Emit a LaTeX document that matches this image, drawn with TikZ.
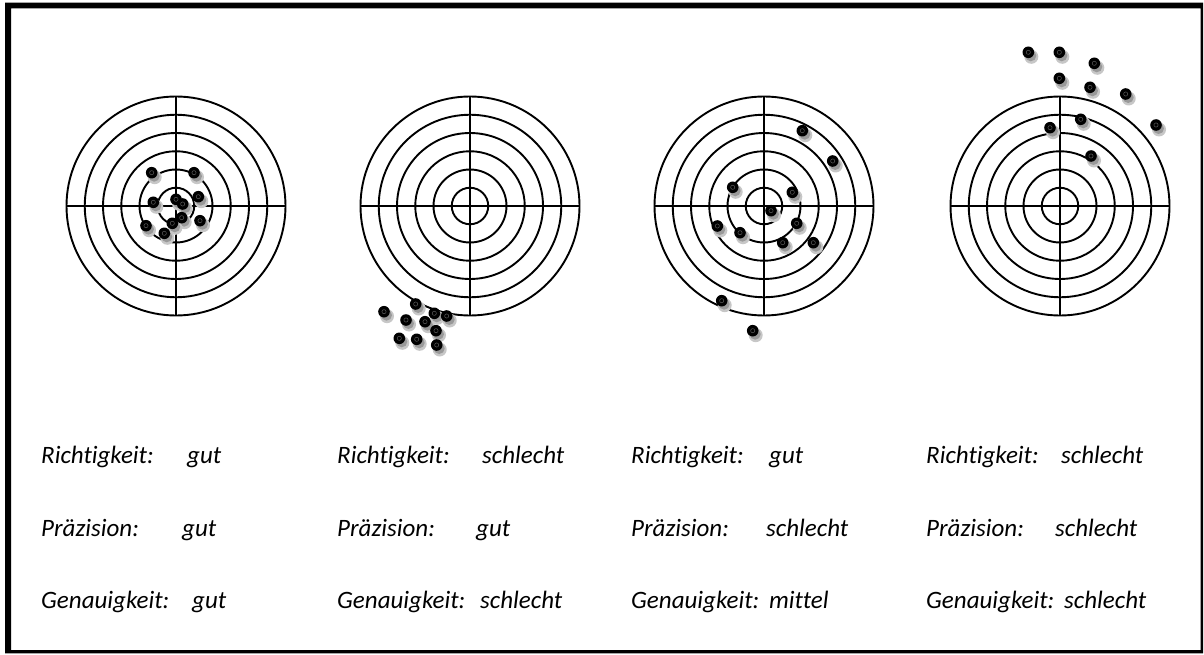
\documentclass[tikz,border=0pt]{standalone}
\usepackage{fontspec}
\setmainfont{Carlito}[Ligatures=NoCommon]
\begin{document}
\begin{tikzpicture}[x=1pt,y=-1pt,
  ring/.style={line width=1.9pt,black},
  lbl/.style={anchor=base west, inner sep=0pt, font=\fontsize{25}{30}\selectfont\itshape},
  shadowA/.style={fill=black!22},
  shadowB/.style={fill=black!40},
  holefill/.style={fill=black},
  holering/.style={draw=black!65,line width=0.5pt}
  ]
\useasboundingbox (0,0) rectangle (1204,655);
\fill[white] (0,0) rectangle (1204,655);
% frame
\fill[black,even odd rule] (5,2.7) rectangle (1203,653.3) (11,8.3) rectangle (1200.7,650);
% targets
\foreach \cx in {176,470,764,1060}{
  \foreach \k in {1,...,6} \draw[ring] (\cx,206) circle[radius=\k*18.25];
  \draw[ring] (\cx-109.5,206) -- (\cx+109.5,206);
  \draw[ring] (\cx,206-109.5) -- (\cx,206+109.5);
}
\def\hits{151.7/172.7, 194/172.7, 153.3/202.3, 176/199.3, 182.7/204, 198.3/196.7, 181.7/217.7, 200/220.7, 172.3/223.3, 146/225.7, 164.3/233.3,
415.7/304, 384/311.7, 434.3/313.3, 446.7/316, 406/320, 425/321.7, 436/330.7, 399.3/338.3, 416.7/339.3, 436.7/345,
802.3/130.7, 832.7/161, 732.7/187.3, 792.3/192.3, 771/210.7, 796.7/223.3, 717.3/226, 740/232.7, 782.7/242.7, 813.3/242.7, 721.7/300.7, 752.7/330.7,
1028.3/52.3, 1059.3/52.3, 1094.3/63.3, 1059.3/78.3, 1090/87.3, 1125.7/94, 1080.7/119.3, 1156/125, 1050/127.7, 1091/156}
\foreach \hx/\hy in \hits {
  \path[shadowA] (\hx+3,\hy+4.5) circle[radius=7];
  \path[shadowB] (\hx+2.5,\hy+3.5) circle[radius=5.5];
}
\foreach \hx/\hy in \hits {
  \path[holefill] (\hx,\hy) circle[radius=5.8];
  \path[holering] (\hx,\hy) circle[radius=2.1];
}
% texts
\node[lbl] (r1) at (41,463) {Richtigkeit:};
\node[lbl] (r1v) at (187,463) {gut};
\node[lbl] (p1) at (41,536) {Präzision:};
\node[lbl] (p1v) at (182,536) {gut};
\node[lbl] (g1) at (41,608) {Genauigkeit:};
\node[lbl] (g1v) at (192,608) {gut};

\node[lbl] (r2) at (337,463) {Richtigkeit:};
\node[lbl] (r2v) at (482,463) {schlecht};
\node[lbl] (p2) at (337,536) {Präzision:};
\node[lbl] (p2v) at (476,536) {gut};
\node[lbl] (g2) at (337,608) {Genauigkeit:};
\node[lbl] (g2v) at (480,608) {schlecht};

\node[lbl] (r3) at (631,463) {Richtigkeit:};
\node[lbl] (r3v) at (769,463) {gut};
\node[lbl] (p3) at (631,536) {Präzision:};
\node[lbl] (p3v) at (766,536) {schlecht};
\node[lbl] (g3) at (631,608) {Genauigkeit:};
\node[lbl] (g3v) at (769,608) {mittel};

\node[lbl] (r4) at (926,463) {Richtigkeit:};
\node[lbl] (r4v) at (1061,463) {schlecht};
\node[lbl] (p4) at (926,536) {Präzision:};
\node[lbl] (p4v) at (1055,536) {schlecht};
\node[lbl] (g4) at (926,608) {Genauigkeit:};
\node[lbl] (g4v) at (1064,608) {schlecht};
\end{tikzpicture}
\end{document}
